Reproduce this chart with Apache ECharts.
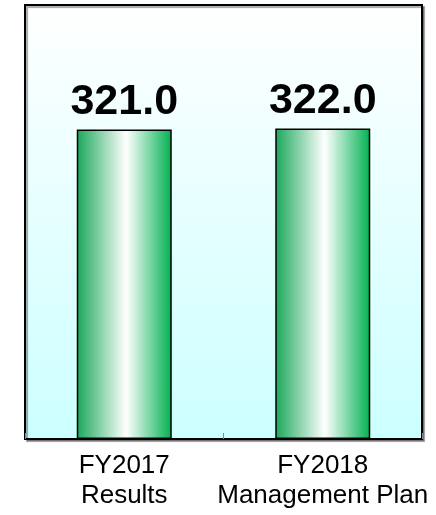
<!DOCTYPE html>
<html>
<head>
<meta charset="utf-8">
<script src="https://cdn.jsdelivr.net/npm/echarts@6/dist/echarts.min.js"></script>
<style>
  html, body { margin: 0; padding: 0; background: #fff; }
  #main { width: 436px; height: 515px; }
</style>
</head>
<body>
<div id="main"></div>
<script>
var categories = ['FY2017\nResults', 'FY2018\nManagement Plan'];
var values = [321.0, 322.0];

var chartDom = document.getElementById('main');
var myChart = echarts.init(chartDom);
var option;

var barFill = new echarts.graphic.LinearGradient(0, 0, 1, 0, [
  { offset: 0, color: '#1aa75a' },
  { offset: 0.52, color: '#ffffff' },
  { offset: 1, color: '#00b050' }
]);

option = {
  animation: false,
  grid: {
    left: 25,
    right: 14,
    top: 5,
    bottom: 76,
    show: true,
    borderColor: '#000',
    borderWidth: 2,
    shadowColor: 'rgba(0,0,0,0.35)',
    shadowOffsetX: 2,
    shadowOffsetY: 2,
    shadowBlur: 1,
    backgroundColor: new echarts.graphic.LinearGradient(0, 0, 0, 1, [
      { offset: 0, color: '#ffffff' },
      { offset: 1, color: '#ccffff' }
    ])
  },
  xAxis: {
    type: 'category',
    data: categories,
    axisLine: { show: true, lineStyle: { color: '#000', width: 2 } },
    axisTick: { show: true, inside: true, length: 6, interval: 0, lineStyle: { color: '#888' } },
    axisLabel: {
      interval: 0,
      hideOverlap: false,
      color: '#000',
      fontFamily: 'Liberation Sans, Arial, sans-serif',
      fontSize: 26,
      lineHeight: 30,
      margin: 12
    }
  },
  yAxis: {
    type: 'value',
    min: 0,
    max: 450,
    show: false,
    splitLine: { show: false }
  },
  series: [
    {
      type: 'bar',
      data: values,
      barWidth: 95,
      itemStyle: {
        color: barFill,
        borderColor: '#000',
        borderWidth: 1.5
      },
      label: {
        show: true,
        position: 'top',
        distance: 6,
        formatter: function (p) { return p.value.toFixed(1); },
        color: '#000',
        fontFamily: 'Liberation Sans, Arial, sans-serif',
        fontWeight: 'bold',
        fontSize: 43
      }
    }
  ]
};
option && myChart.setOption(option);
</script>
</body>
</html>
